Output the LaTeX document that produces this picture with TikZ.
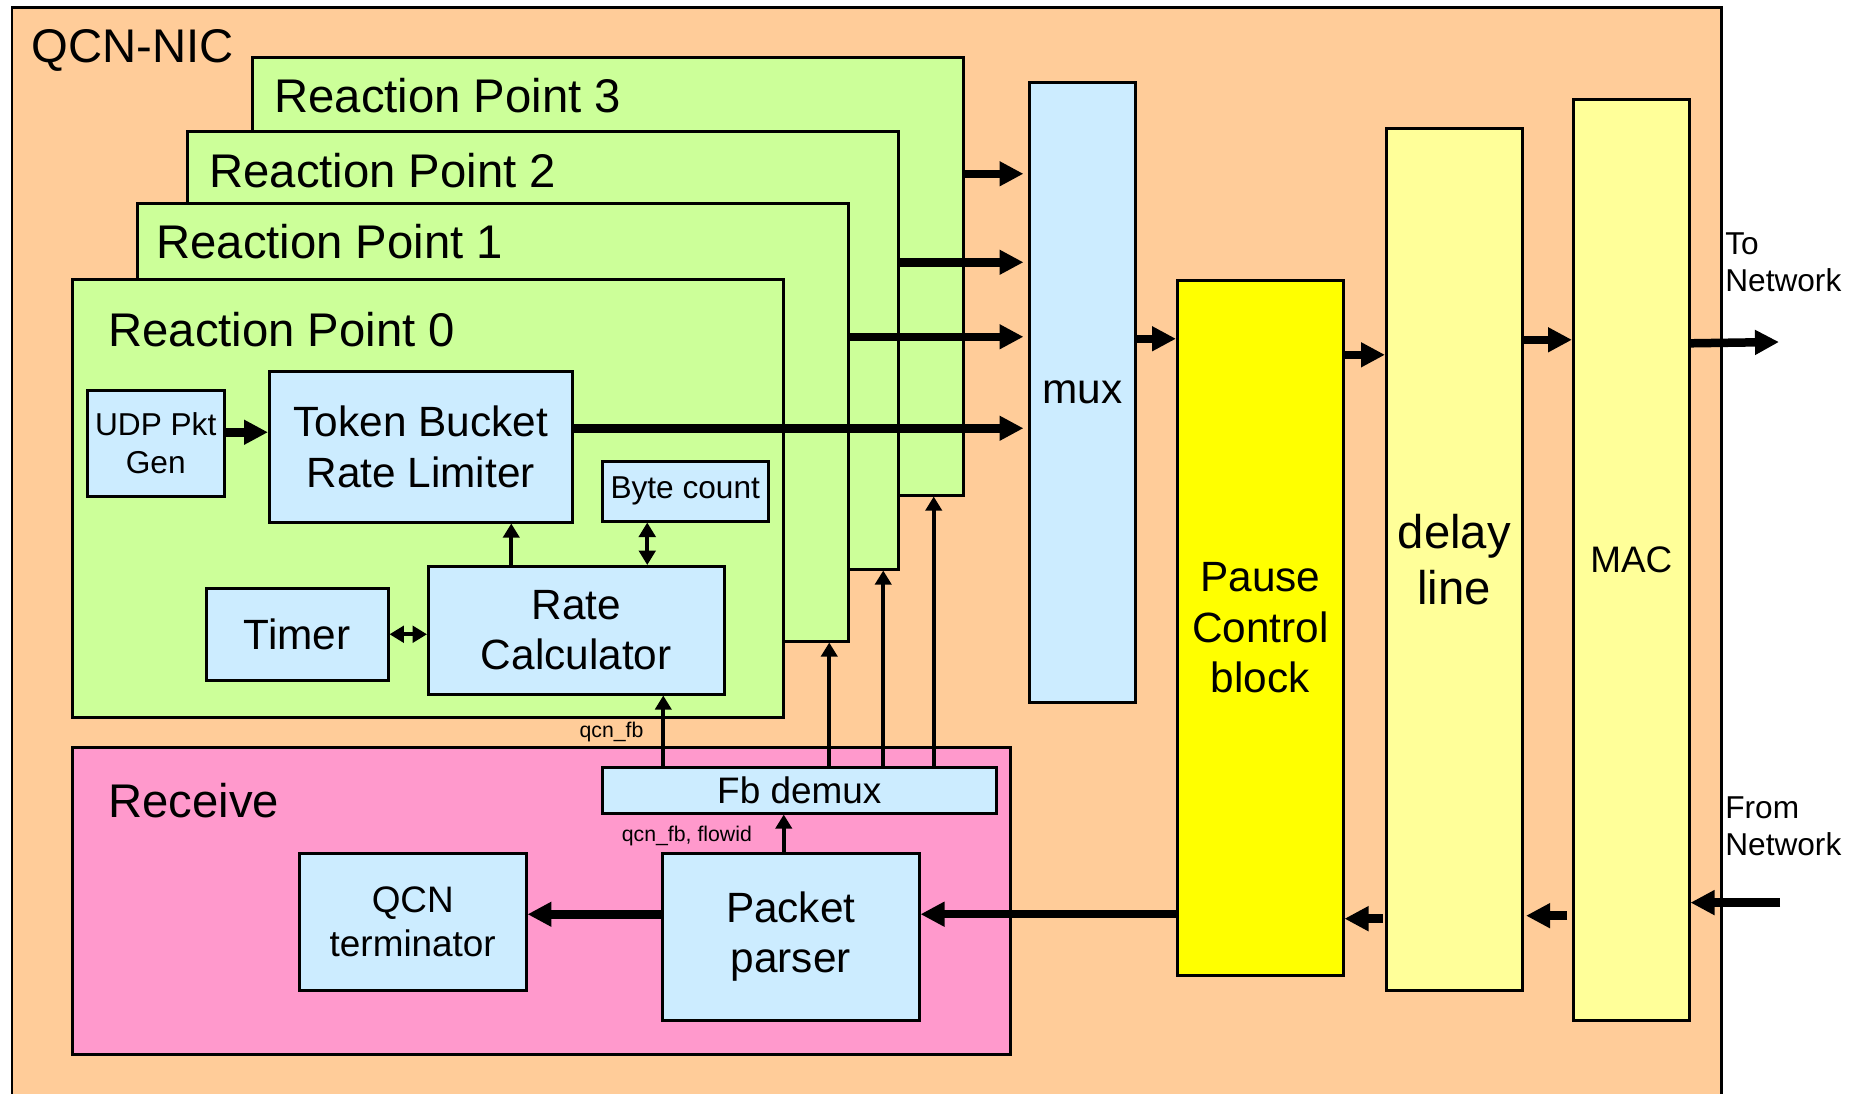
\documentclass[tikz,border=0pt]{standalone}
\usepackage{fontspec}
\setmainfont{Liberation Sans}
\usetikzlibrary{arrows.meta}

\definecolor{nicorange}{HTML}{FFCC99}
\definecolor{rpgreen}{HTML}{CCFF99}
\definecolor{boxblue}{HTML}{CCECFF}
\definecolor{recvpink}{HTML}{FF99CC}
\definecolor{pauseyellow}{HTML}{FFFF00}
\definecolor{paleyellow}{HTML}{FFFF99}

\newcommand{\fbig}{\fontsize{26.9}{32}\selectfont}
\newcommand{\fmed}{\fontsize{24.1}{28.7}\selectfont}
\newcommand{\fmid}{\fontsize{21}{25}\selectfont}
\newcommand{\fsmall}{\fontsize{18}{21.4}\selectfont}
\newcommand{\ftiny}{\fontsize{12.1}{14.4}\selectfont}

\tikzset{
  blk/.style={draw, line width=0.05cm, inner sep=0pt, align=center, anchor=north west},
  wh/.style 2 args={minimum width=#1*0.02cm, minimum height=#2*0.02cm},
  lbl/.style={inner sep=0pt, anchor=base west},
  fat/.style={line width=0.17cm, -{Triangle[length=0.48cm, width=0.47cm]}},
  sig/.style={line width=0.075cm, -{Triangle[length=0.28cm, width=0.32cm]}},
  sigboth/.style={line width=0.075cm, {Triangle[length=0.29cm, width=0.33cm]}-{Triangle[length=0.29cm, width=0.33cm]}},
  tag/.style={font=\ftiny, inner sep=0pt, anchor=east}
}

\begin{document}
\begin{tikzpicture}[x=0.02cm, y=-0.02cm]
	\useasboundingbox (0,0) rectangle (1854,1093);
	\fill[white] (0,0) rectangle (1854,1093);

	\node[blk, fill=nicorange, wh={1709}{1120}] (nic) at (11,6) {};
	\node[lbl, font=\fbig] (nictitle) at (31,62.5) {QCN-NIC};

	\foreach \i/\x/\y/\tx/\ty in {3/251/56/274/112.5, 2/186/130/209/187.5, 1/136/202/156/258, 0/71/278/108/346} {
		\node[blk, fill=rpgreen, wh={711}{438}] (rp\i) at (\x,\y) {};
		\node[lbl, font=\fbig] (rp\i title) at (\tx,\ty) {Reaction Point \i};
	}

	\node[blk, fill=boxblue, wh={137}{106}, font=\fsmall] (udp) at (86,389) {UDP Pkt\\Gen};
	\node[blk, fill=boxblue, wh={303}{151}, font=\fmed] (tb) at (268,370) {Token Bucket\\Rate Limiter};
	\node[blk, fill=boxblue, wh={166}{60}, font=\fsmall] (byte) at (601,460) {Byte count};
	\node[blk, fill=boxblue, wh={182}{92}, font=\fmed] (timer) at (205,587) {Timer};
	\node[blk, fill=boxblue, wh={296}{128}, font=\fmed] (rc) at (427,565) {Rate\\Calculator};

	\node[blk, fill=recvpink, wh={938}{307}] (recv) at (71,746) {};
	\node[lbl, font=\fbig] (recvtitle) at (108,817) {Receive};
	\node[blk, fill=boxblue, wh={394}{46}, font=\fmid] (fbd) at (601,766) {Fb demux};
	\node[blk, fill=boxblue, wh={257}{167}, font=\fmed] (pp) at (661,852) {Packet\\parser};
	\node[blk, fill=boxblue, wh={227}{137}, font=\fmid] (qcnt) at (298,852) {QCN\\terminator};

	\node[blk, fill=boxblue, wh={106}{620}, font=\fmed] (mux) at (1028,81) {mux};
	\node[blk, fill=pauseyellow, wh={166}{695}, font=\fmed] (pause) at (1176,279) {Pause\\Control\\block};
	\node[blk, fill=paleyellow, wh={136}{862}, font=\fbig] (delay) at (1385,127) {delay\\line};
	\node[blk, fill=paleyellow, wh={116}{921}, font=\fmid] (mac) at (1572,98) {MAC};

	\node[inner sep=0pt, anchor=north west, align=left, font=\fsmall] (tonettext) at (1725,232) {To\\Network};
	\node[inner sep=0pt, anchor=north west, align=left, font=\fsmall] (fromnettext) at (1725,796) {From\\Network};
	\coordinate (tonet) at (1779,342);
	\coordinate (fromnet) at (1780,902.6);

	\draw[fat] ([yshift=0.22cm]udp.east) -- ([yshift=0.22cm]udp.east -| tb.west);
	\draw[fat, shorten >=0.09cm] ([yshift=0.37cm]tb.east) -- ([yshift=0.37cm]tb.east -| mux.west);
	\draw[fat, shorten >=0.09cm] ([yshift=1.71cm]rp1.east) -- ([yshift=1.71cm]rp1.east -| mux.west);
	\draw[fat, shorten >=0.09cm] ([yshift=1.76cm]rp2.east) -- ([yshift=1.76cm]rp2.east -| mux.west);
	\draw[fat, shorten >=0.09cm] ([yshift=2.05cm]rp3.east) -- ([yshift=2.05cm]rp3.east -| mux.west);
	\draw[fat] ([yshift=1.07cm]mux.east) -- ([yshift=1.07cm]mux.east -| pause.west);
	\draw[fat] ([yshift=5.46cm]pause.east) -- ([yshift=5.46cm]pause.east -| delay.west);
	\draw[fat] ([yshift=4.39cm]delay.east) -- ([yshift=4.39cm]delay.east -| mac.west);
	\draw[fat] ([yshift=4.33cm]mac.east) -- (tonet);
	\draw[fat] (fromnet) -- (fromnet -| mac.east);
	\draw[fat, shorten <=0.1cm, shorten >=0.05cm] ([yshift=-7.12cm]mac.west) -- ([yshift=-7.12cm]mac.west -| delay.east);
	\draw[fat, shorten <=0.04cm] ([yshift=-7.19cm]delay.west) -- ([yshift=-7.19cm]delay.west -| pause.east);
	\draw[fat] ([yshift=-5.73cm]pause.west) -- ([yshift=-5.73cm]pause.west -| pp.east);
	\draw[fat] ([yshift=0.45cm]pp.west) -- ([yshift=0.45cm]pp.west -| qcnt.east);

	\draw[sig] ([xshift=-0.14cm]pp.north) -- ([xshift=-0.14cm]pp.north |- fbd.south) node[tag, pos=0.44, xshift=-0.6cm] (flowidtag) {qcn\_fb, flowid};
	\draw[sig] ([xshift=-2.72cm]fbd.north) -- ([xshift=-2.72cm]fbd.north |- rc.south) node[tag, pos=0.48, xshift=-0.36cm] (fbtag) {qcn\_fb};
	\draw[sig] ([xshift=0.6cm]fbd.north) -- ([xshift=0.6cm]fbd.north |- rp1.south);
	\draw[sig] ([xshift=1.68cm]fbd.north) -- ([xshift=1.68cm]fbd.north |- rp2.south);
	\draw[sig] ([xshift=2.69cm]fbd.north) -- ([xshift=2.69cm]fbd.north |- rp3.south);
	\draw[sig] ([xshift=-1.3cm]rc.north) -- ([xshift=-1.3cm]rc.north |- tb.south);
	\draw[sigboth] ([xshift=-0.76cm]byte.south) -- ([xshift=-0.76cm]byte.south |- rc.north);
	\draw[sigboth] (timer.east) -- (timer.east -| rc.west);
\end{tikzpicture}
\end{document}
